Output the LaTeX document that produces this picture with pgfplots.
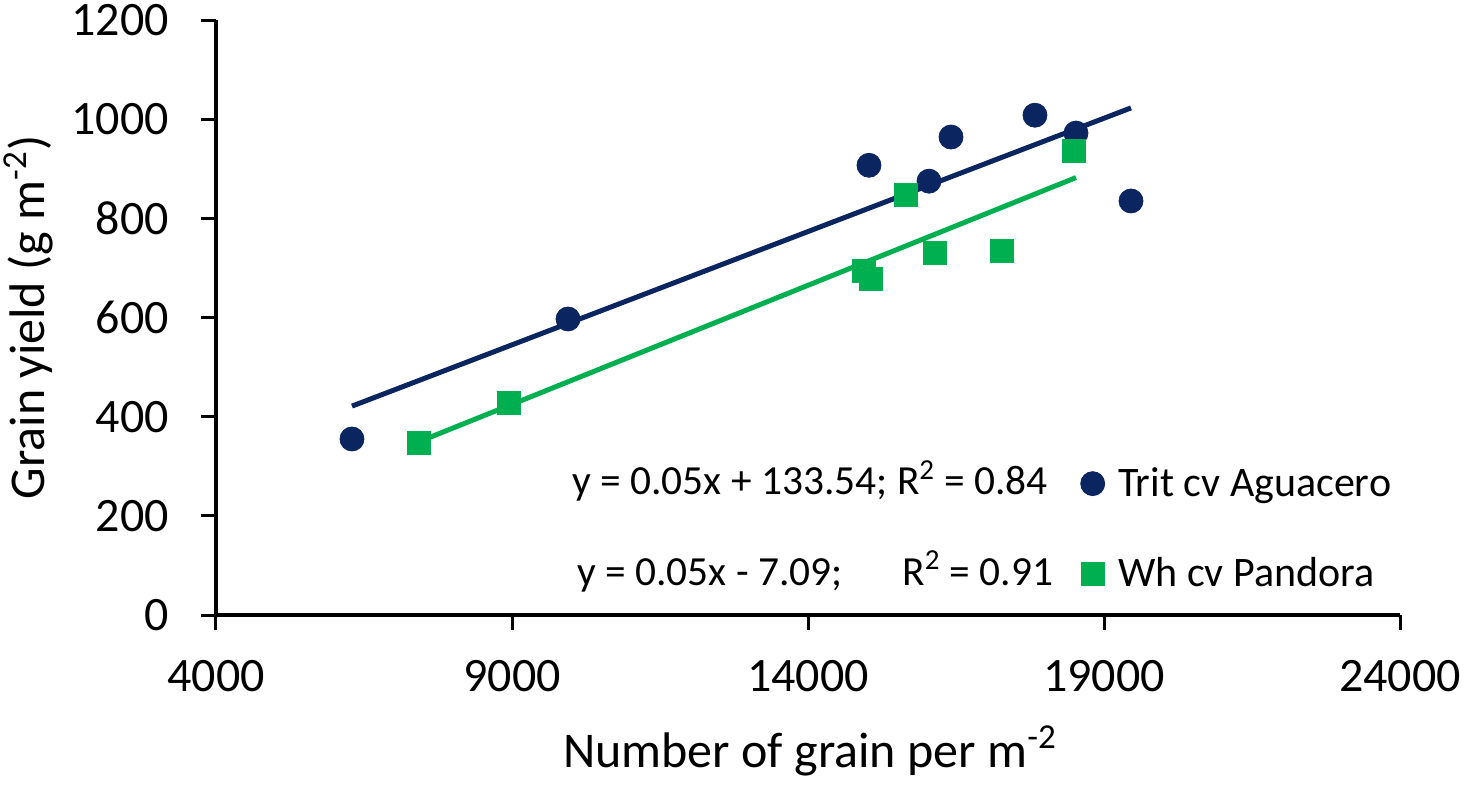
\documentclass[border=0pt]{standalone}
\usepackage{fontspec}
\setmainfont{Carlito}
\usepackage{pgfplots}
\pgfplotsset{compat=1.18}
\definecolor{navy}{HTML}{0B2561}
\definecolor{xgreen}{HTML}{00B050}
\begin{document}
\begin{tikzpicture}
\useasboundingbox (-108pt,-89.5pt) rectangle (628pt,307.5pt);
\begin{axis}[
  at={(0,0)}, anchor=south west,
  scale only axis, width=592pt, height=297.5pt,
  xmin=4000, xmax=24000, ymin=0, ymax=1200,
  xtick={4000,9000,14000,19000,24000},
  ytick={0,200,400,600,800,1000,1200},
  axis lines=left,
  axis line style={-, line width=1.8pt},
  tick align=outside, major tick length=7.5pt,
  every tick/.style={black, line width=1.5pt},
  tick label style={font=\fontsize{24}{28}\selectfont},
  xticklabel style={yshift=-11.5pt},
  yticklabel style={xshift=-12.5pt},
  /pgf/number format/assume math mode=true,
  /pgf/number format/1000 sep={},
  scaled ticks=false,
  xlabel={Number of grain per m\textsuperscript{-2}},
  ylabel={Grain yield (g m\textsuperscript{-2})},
  label style={font=\fontsize{25}{29}\selectfont},
  xlabel style={at={(axis description cs:0.5017,-0.2555)}, anchor=base},
  ylabel style={at={(axis description cs:-0.1445,0.5)}, anchor=base, rotate=0, inner sep=0pt},
  clip=false,
  legend image code/.code={\draw[#1] plot coordinates {(0pt,0pt)}; \path (0pt,0pt) (10.5pt,0pt);},
  legend style={draw=none, fill=none, at={(axis description cs:0.730,0.145)}, anchor=west,
    font=\fontsize{21}{25}\selectfont, row sep=25pt, inner sep=0pt,
    nodes={inner sep=2pt}},
  legend cell align=left,
]
\addplot[only marks, mark=*, mark size=6pt, navy, mark options={fill=navy, draw=navy}]
  coordinates {
  (6297,355) (9946,597) (15030,907) (16044,875) (16416,964)
  (17834,1008) (18527,972) (19456,835)
  };
\addlegendentry{Trit cv Aguacero}
\addplot[only marks, mark=square*, mark size=5.75pt, xgreen, mark options={fill=xgreen, draw=xgreen}]
  coordinates {
  (7429,347) (8949,427) (14946,694) (15063,677) (15655,847)
  (16145,730) (17276,734) (18493,935)
  };
\addlegendentry{Wh cv Pandora}
\addplot[forget plot, no marks, navy, line width=2.5pt] coordinates {(6297,421.3) (19456,1022.7)};
\addplot[forget plot, no marks, xgreen, line width=2.5pt] coordinates {(7429,349.5) (18527,882.2)};
\node[anchor=base west, inner sep=0pt, font=\fontsize{20.7}{24}\selectfont] at (axis description cs:0.3007,0.2017) {y = 0.05x + 133.54; R\textsuperscript{2} = 0.84};
\node[anchor=base west, inner sep=0pt, font=\fontsize{20.7}{24}\selectfont] at (axis description cs:0.3049,0.0504) {y = 0.05x - 7.09;};
\node[anchor=base west, inner sep=0pt, font=\fontsize{20.7}{24}\selectfont] at (axis description cs:0.5794,0.0504) {R\textsuperscript{2} = 0.91};
\end{axis}
\end{tikzpicture}
\end{document}
